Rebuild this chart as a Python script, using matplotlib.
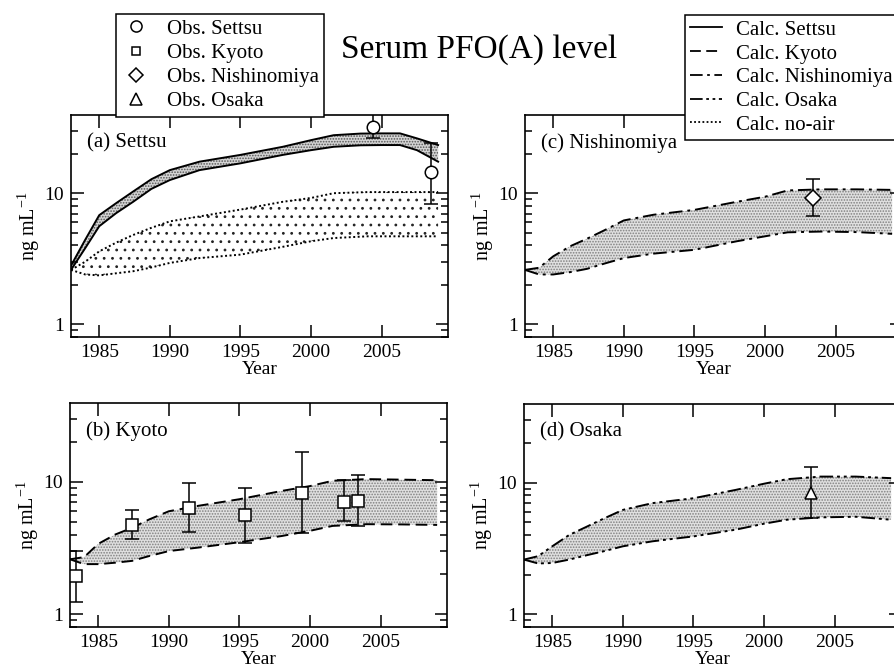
import matplotlib
matplotlib.use('Agg')
import matplotlib.pyplot as plt
from matplotlib.lines import Line2D
from matplotlib.ticker import FixedLocator, NullFormatter, LogLocator
import numpy as np

plt.rcParams['font.family'] = ['Liberation Serif', 'DejaVu Serif']
plt.rcParams['mathtext.fontset'] = 'custom'
plt.rcParams['mathtext.rm'] = 'Liberation Serif'
plt.rcParams['hatch.linewidth'] = 0.8

# ---- calculated bands ----
yr_settsu = [1983.0, 1984.0, 1985.0, 1986.2, 1987.4, 1988.7, 1990.0, 1992.1, 1995.0,
             1998.0, 2000.0, 2001.6, 2003.5, 2005.0, 2006.3, 2007.5, 2009.0]
settsu_hi = [2.8, 4.4, 6.8, 8.4, 10.3, 12.8, 15.0, 17.4, 19.6,
             22.6, 25.4, 27.7, 28.5, 28.6, 28.6, 26.2, 23.3]
settsu_lo = [2.6, 3.8, 5.6, 7.05, 8.6, 10.8, 12.6, 15.0, 16.9,
             19.6, 21.3, 22.6, 23.2, 23.3, 23.3, 21.3, 17.4]

yr_band = [1983.0, 1984.0, 1985.0, 1986.2, 1987.4, 1988.6, 1990.0, 1992.1, 1995.0,
           1998.0, 2000.0, 2001.6, 2004.0, 2006.5, 2009.0]
noair_hi = [2.6, 3.0, 3.6, 4.2, 4.8, 5.4, 6.1, 6.65, 7.5, 8.6, 9.2, 10.0, 10.2, 10.2, 10.2]
noair_lo = [2.6, 2.4, 2.36, 2.45, 2.54, 2.7, 2.94, 3.2, 3.4, 3.9, 4.3, 4.55, 4.69, 4.69, 4.69]
kyoto_hi = [2.6, 2.7, 3.4, 4.0, 4.5, 5.2, 6.0, 6.6, 7.4, 8.55, 9.3, 10.2, 10.5, 10.4, 10.3]
kyoto_lo = [2.6, 2.39, 2.39, 2.45, 2.53, 2.75, 3.0, 3.19, 3.5, 3.9, 4.27, 4.65, 4.79, 4.77, 4.73]
nishi_hi = [2.6, 2.7, 3.3, 3.94, 4.5, 5.2, 6.2, 6.85, 7.46, 8.6, 9.4, 10.5, 10.7, 10.7, 10.6]
nishi_lo = [2.6, 2.4, 2.4, 2.5, 2.65, 2.9, 3.2, 3.46, 3.7, 4.3, 4.69, 5.03, 5.1, 5.05, 4.9]
osaka_hi = [2.6, 2.76, 3.28, 4.0, 4.6, 5.3, 6.2, 6.98, 7.6, 8.8, 9.8, 10.6, 11.1, 11.1, 10.8]
osaka_lo = [2.6, 2.43, 2.45, 2.6, 2.8, 3.0, 3.28, 3.58, 3.9, 4.39, 4.87, 5.22, 5.44, 5.5, 5.22]

# ---- observations: year, value, lower, upper ----
obs_settsu_yr = [2004.4, 2008.5]
obs_settsu = [32.0, 14.4]
obs_settsu_lo = [26.3, 8.3]
obs_settsu_hi = [48.0, 24.2]

obs_kyoto_yr = [1983.4, 1987.4, 1991.4, 1995.4, 1999.4, 2002.4, 2003.4]
obs_kyoto = [1.95, 4.73, 6.4, 5.6, 8.3, 7.1, 7.2]
obs_kyoto_lo = [1.24, 3.69, 4.2, 3.48, 4.09, 5.07, 4.65]
obs_kyoto_hi = [3.0, 6.1, 9.77, 8.96, 16.9, 10.4, 11.3]

obs_nishi_yr = [2003.4]
obs_nishi = [9.27]
obs_nishi_lo = [6.65]
obs_nishi_hi = [12.9]

obs_osaka_yr = [2003.3]
obs_osaka = [8.4]
obs_osaka_lo = [5.38]
obs_osaka_hi = [13.2]

xticks = [1985, 1990, 1995, 2000, 2005]

ls_solid = '-'
ls_dash = (0, (6, 3))
ls_dashdot = (0, (7, 2.5, 1.5, 2.5))
ls_dashdotdot = (0, (7, 2, 1.5, 2, 1.5, 2))
ls_dot = (0, (1, 1.3))

W, H = 895, 671
fig = plt.figure(figsize=(W / 100, H / 100), dpi=100)


def make_ax(x0, y_top, y_bot):
    ax = fig.add_axes([x0 / W, 1 - y_bot / H, 377 / W, (y_bot - y_top) / H])
    ax.set_yscale('log')
    ax.set_xlim(1983, 2009.7)
    ax.set_ylim(0.8, 39.5)
    ax.xaxis.set_major_locator(FixedLocator(xticks))
    ax.set_xticklabels([str(t) for t in xticks])
    ax.yaxis.set_major_locator(FixedLocator([1, 10]))
    ax.set_yticklabels(['1', '10'])
    ax.yaxis.set_minor_locator(LogLocator(base=10, subs=np.arange(2, 10)))
    ax.yaxis.set_minor_formatter(NullFormatter())
    ax.tick_params(which='both', direction='in', top=True, right=True, width=1.1,
                   labelsize=14, pad=5)
    ax.tick_params(which='major', length=9)
    ax.tick_params(which='minor', length=5)
    for s in ax.spines.values():
        s.set_linewidth(1.2)
    ax.set_xlabel('Year', fontsize=14)
    ax.xaxis.set_label_coords(0.5, -0.108)
    ax.set_ylabel('ng mL$^{\\mathregular{-1}}$', fontsize=14.5)
    ax.yaxis.set_label_coords(-0.078, 0.5)
    return ax


def band(ax, yr, hi, lo, ls, face, hatch, hcol):
    ax.fill_between(yr, lo, hi, facecolor=face, edgecolor=hcol, hatch=hatch, linewidth=0)
    ax.plot(yr, hi, color='black', linestyle=ls, linewidth=1.4)
    ax.plot(yr, lo, color='black', linestyle=ls, linewidth=1.4)


def obs(ax, yr, v, lo, hi, marker, ms):
    err = [np.array(v) - np.array(lo), np.array(hi) - np.array(v)]
    ax.errorbar(yr, v, yerr=err, fmt=marker, ms=ms, mfc='white', mec='black', mew=1.1,
                ecolor='black', elinewidth=1.1, capsize=5, capthick=1.1, zorder=5)


ax_a = make_ax(71, 115, 337)
ax_b = make_ax(70, 403, 627)
ax_c = make_ax(525, 115, 337)
ax_d = make_ax(524, 404, 627)

band(ax_a, yr_settsu, settsu_hi, settsu_lo, ls_solid, '#d4d4d4', '......', '#555555')
band(ax_a, yr_band, noair_hi, noair_lo, ls_dot, 'white', '..', '#222222')
obs(ax_a, obs_settsu_yr, obs_settsu, obs_settsu_lo, obs_settsu_hi, 'o', 9)

band(ax_b, yr_band, kyoto_hi, kyoto_lo, ls_dash, '#e0e0e0', '......', '#808080')
obs(ax_b, obs_kyoto_yr, obs_kyoto, obs_kyoto_lo, obs_kyoto_hi, 's', 8)

band(ax_c, yr_band, nishi_hi, nishi_lo, ls_dashdot, '#e0e0e0', '......', '#808080')
obs(ax_c, obs_nishi_yr, obs_nishi, obs_nishi_lo, obs_nishi_hi, 'D', 8)

band(ax_d, yr_band, osaka_hi, osaka_lo, ls_dashdotdot, '#e0e0e0', '......', '#808080')
obs(ax_d, obs_osaka_yr, obs_osaka, obs_osaka_lo, obs_osaka_hi, '^', 9)

for ax, lab in [(ax_a, '(a) Settsu'), (ax_b, '(b) Kyoto'),
                (ax_c, '(c) Nishinomiya'), (ax_d, '(d) Osaka')]:
    ax.text(0.042, 0.875, lab, transform=ax.transAxes, fontsize=15, va='center', ha='left')

fig.text(479 / W, 1 - 50 / H, 'Serum PFO(A) level', fontsize=24, ha='center', va='center')

obs_handles = [Line2D([], [], linestyle='none', marker=m, ms=s, mfc='white', mec='black', mew=1.1)
               for m, s in [('o', 8), ('s', 6), ('D', 7), ('^', 8)]]
obs_labels = ['Obs. Settsu', 'Obs. Kyoto', 'Obs. Nishinomiya', 'Obs. Osaka']
leg1 = fig.legend(obs_handles, obs_labels, loc='upper left', bbox_to_anchor=(116 / W, 1 - 14 / H),
                  borderaxespad=0, fontsize=15, frameon=True, fancybox=False, framealpha=1,
                  edgecolor='black', labelspacing=0.22, handlelength=1.4, handletextpad=0.8,
                  borderpad=0.25)
leg1.get_frame().set_linewidth(1.1)
leg1.set_zorder(10)

calc_handles = [Line2D([], [], color='black', linestyle=ls, linewidth=1.3)
                for ls in [ls_solid, ls_dash, ls_dashdot, ls_dashdotdot, ls_dot]]
calc_labels = ['Calc. Settsu', 'Calc. Kyoto', 'Calc. Nishinomiya', 'Calc. Osaka', 'Calc. no-air']
leg2 = fig.legend(calc_handles, calc_labels, loc='upper left', bbox_to_anchor=(685 / W, 1 - 15 / H),
                  borderaxespad=0, fontsize=15, frameon=True, fancybox=False, framealpha=1,
                  edgecolor='black', labelspacing=0.2, handlelength=1.55, handletextpad=0.65,
                  borderpad=0.25)
leg2.get_frame().set_linewidth(1.1)
leg2.set_zorder(10)

fig.savefig('out.png', dpi=100)
